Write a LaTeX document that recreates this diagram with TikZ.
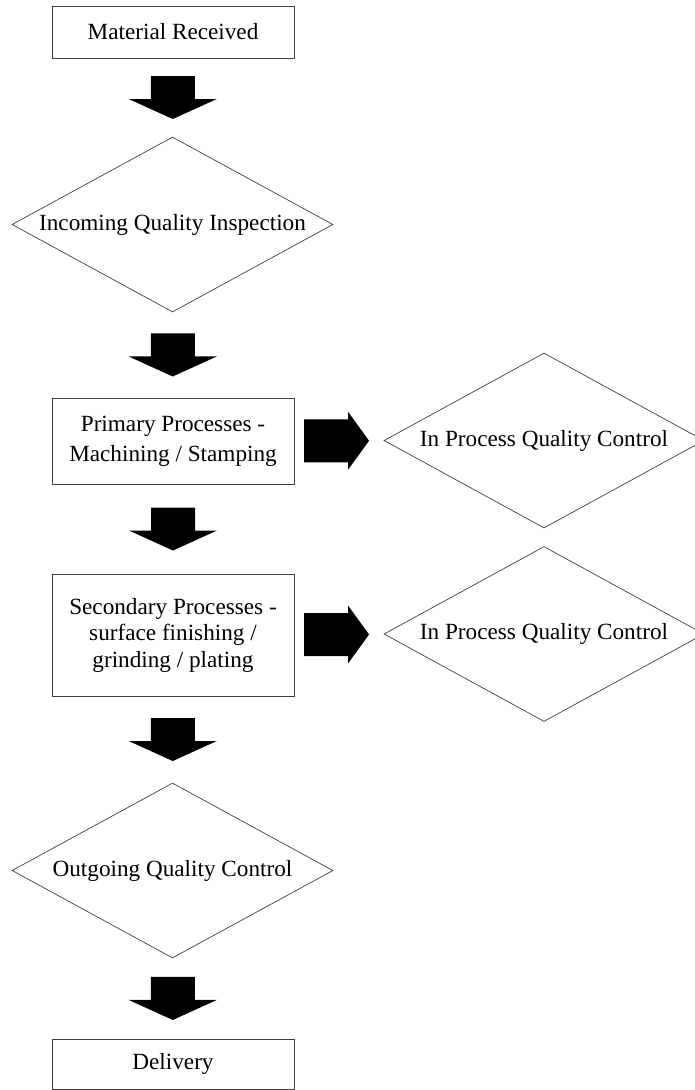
\documentclass[tikz,border=0pt]{standalone}
\usepackage{fontspec}
\setmainfont{Liberation Serif}
\usetikzlibrary{shapes.geometric,calc}
\begin{document}
\begin{tikzpicture}[x=1pt,y=-1pt,
  font=\fontsize{23.2}{28}\selectfont,
  boxnode/.style={draw=black!75, line width=0.8pt, rectangle, minimum width=242pt, inner sep=0pt, align=center},
  decision/.style={draw=black!75, line width=0.7pt, diamond, aspect=1.84, minimum width=321pt, minimum height=175pt, inner sep=0pt, align=center},
  downarrow/.pic={\fill[black] (-22,-21.5) -- (22,-21.5) -- (22,1.5) -- (44,1.5) -- (0,21.5) -- (-44,1.5) -- (-22,1.5) -- cycle;},
  rightarrow/.pic={\fill[black] (-35,-21.5) -- (9,-21.5) -- (9,-29) -- (30,0) -- (9,29) -- (9,21.5) -- (-35,21.5) -- cycle;}
]
\clip (0,0) rectangle (695,1090);
\fill[white] (0,0) rectangle (695,1090);

\node[boxnode, minimum height=52pt] (recv) at (173,32) {Material Received};
\node[decision] (iqi) at (172.5,224.5) {Incoming Quality Inspection};
\node[boxnode, minimum height=86pt, font=\fontsize{23.2}{30}\selectfont] (prim) at (173,441) {Primary Processes -\\Machining / Stamping};
\node[decision, minimum width=320pt] (ipqc1) at (544,440.5) {In Process Quality Control};
\node[boxnode, minimum height=122pt, font=\fontsize{23.2}{26.5}\selectfont] (sec) at (173,635) {Secondary Processes -\\surface finishing /\\grinding / plating};
\node[decision, minimum width=320pt] (ipqc2) at (544,634) {In Process Quality Control};
\node[decision] (oqc) at (172.5,870.5) {Outgoing Quality Control};
\node[boxnode, minimum height=50pt] (deliv) at (173,1064) {Delivery};

\pic at ($(recv.south)!0.5!(iqi.north)$) {downarrow};
\pic at ($(iqi.south)!0.5!(prim.north)$) {downarrow};
\pic at ($(prim.south)!0.5!(sec.north)$) {downarrow};
\pic at ($(sec.south)!0.5!(oqc.north)$) {downarrow};
\pic at ($(oqc.south)!0.5!(deliv.north)$) {downarrow};
\pic at ($(prim.east)!0.5!(ipqc1.west)$) {rightarrow};
\pic at ($(sec.east)!0.5!(ipqc2.west)$) {rightarrow};
\end{tikzpicture}
\end{document}
